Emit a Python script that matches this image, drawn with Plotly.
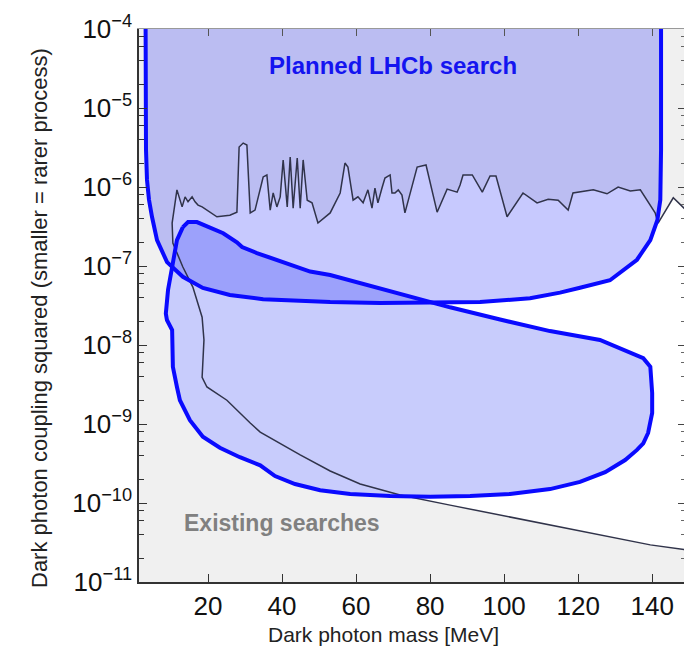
import plotly.graph_objects as go

# ---------------- data ----------------
# Boundary of existing searches (lower curve right->left, up the left side, then jagged top left->right)
limit_mass = [150.3, 148.6, 139.5, 125.9, 112.4, 98.9, 85.4, 71.9, 61.1, 53.0, 44.9, 34.1, 31.4,
              25.1, 19.7, 18.4, 18.9, 18.4, 15.9, 13.2, 10.5, 10.3, 11.6,
              13.0, 13.8, 14.6, 15.7, 16.5, 17.3, 18.4, 19.7, 22.4, 25.9, 27.8, 28.4, 29.5, 30.5,
              31.4, 32.7, 34.1, 34.9, 35.9, 36.8, 37.6, 38.6, 39.5, 40.3, 41.4, 42.2, 43.0, 44.1,
              44.9, 45.7, 46.8, 48.1, 49.7, 53.0, 55.7, 57.0, 57.8, 59.2, 60.5, 61.9, 63.2, 64.3,
              65.1, 65.9, 67.0, 67.8, 69.2, 69.7, 70.5, 71.4, 72.4, 73.2, 76.5, 78.9, 81.9, 84.6,
              87.3, 88.1, 88.9, 91.4, 94.1, 96.2, 97.8, 100.8, 105.1, 108.9, 111.9, 114.6, 117.3,
              118.6, 124.1, 127.8, 130.8, 134.1, 136.8, 140.8, 141.6, 145.7, 148.6, 150.3]
limit_eps2 = [2.45e-11, 2.57e-11, 2.95e-11, 3.93e-11, 5.3e-11, 7.0e-11, 9.4e-11, 1.26e-10, 1.74e-10,
              2.54e-10, 4.06e-10, 7.9e-10, 1.03e-9, 2.0e-9, 2.94e-9, 3.9e-9, 1.16e-8, 2.25e-8,
              5.4e-8, 9.7e-8, 1.95e-7, 3.5e-7, 9.2e-7,
              5.6e-7, 7.5e-7, 6.5e-7, 7.5e-7, 6.5e-7, 5.9e-7, 5.6e-7, 5.1e-7, 4.2e-7, 4.4e-7, 4.8e-7,
              3.2e-6, 3.6e-6, 3.4e-6, 4.7e-7, 5.1e-7, 1.0e-6, 1.34e-6, 1.42e-6, 5.1e-7, 8.4e-7,
              5.6e-7, 7.5e-7, 2.2e-6, 5.6e-7, 2.4e-6, 5.4e-7, 2.33e-6, 5.4e-7, 2.2e-6, 6.8e-7,
              6.3e-7, 3.5e-7, 4.7e-7, 8.4e-7, 2.01e-6, 1.79e-6, 6.8e-7, 7.5e-7, 6.3e-7, 9.2e-7,
              5.4e-7, 9.7e-7, 6.3e-7, 9.7e-7, 1.3e-6, 1.42e-6, 8.4e-7, 8.4e-7, 9.2e-7, 7.9e-7,
              4.7e-7, 1.79e-6, 1.9e-6, 4.8e-7, 9.4e-7, 8.6e-7, 1.06e-6, 1.42e-6, 1.42e-6, 8.6e-7,
              1.38e-6, 1.38e-6, 4.2e-7, 8.4e-7, 6.3e-7, 7.0e-7, 6.8e-7, 5.1e-7, 8.4e-7, 9.2e-7,
              8.2e-7, 1.0e-6, 8.9e-7, 9.2e-7, 4.7e-7, 3.5e-7, 7.3e-7, 5.4e-7, 4.5e-7]

# Planned LHCb search, region 1 (U shape, open above the top of the plot)
lhcb1_mass = [3.1, 3.1, 3.24, 3.51, 4.05, 4.86, 6.22, 8.92, 13.2, 18.6, 25.9, 34.9, 44.1, 53.0,
              66.5, 80.0, 93.5, 107.0, 115.1, 120.5, 128.6, 135.9, 139.5, 141.4, 142.2, 142.4, 142.4]
lhcb1_eps2 = [3e-4, 1.0e-5, 2.95e-6, 1.23e-6, 6.9e-7, 4.2e-7, 2.13e-7, 1.12e-7, 7.3e-8, 5.27e-8,
              4.3e-8, 3.8e-8, 3.6e-8, 3.5e-8, 3.4e-8, 3.4e-8, 3.5e-8, 3.9e-8, 4.6e-8, 5.3e-8,
              6.6e-8, 1.2e-7, 2.13e-7, 3.8e-7, 6.9e-7, 2.95e-6, 3e-4]

# Planned LHCb search, region 2 (closed island)
lhcb2_mass = [13.2, 14.6, 17.0, 20.5, 24.1, 27.8, 29.2, 33.2, 39.5, 45.7, 47.6, 53.0, 71.9, 85.4,
              98.9, 112.4, 125.9, 130.5, 134.9, 137.6, 139.5, 140.0, 140.0, 138.9, 137.6, 135.9,
              132.7, 127.3, 120.5, 112.4, 101.6, 90.8, 80.0, 69.2, 58.4, 50.3, 43.5, 38.1, 34.1,
              28.6, 23.2, 18.6, 15.1, 12.4, 11.6, 10.5, 10.3, 8.9, 8.6, 9.2, 10.3, 11.6, 13.2]
lhcb2_eps2 = [3.1e-7, 3.6e-7, 3.6e-7, 3.1e-7, 2.6e-7, 2.0e-7, 1.74e-7, 1.46e-7, 1.15e-7, 9.3e-8,
              8.5e-8, 7.7e-8, 4.4e-8, 3.0e-8, 2.1e-8, 1.5e-8, 1.16e-8, 9.4e-9, 7.9e-9, 6.8e-9,
              5.3e-9, 2.47e-9, 1.38e-9, 7.7e-10, 5.7e-10, 4.7e-10, 3.5e-10, 2.46e-10, 1.85e-10,
              1.5e-10, 1.3e-10, 1.23e-10, 1.2e-10, 1.23e-10, 1.3e-10, 1.45e-10, 1.74e-10, 2.19e-10,
              3.0e-10, 3.8e-10, 5.0e-10, 6.9e-10, 1.12e-9, 2.0e-9, 2.94e-9, 5.3e-9, 1.55e-8,
              2.07e-8, 2.5e-8, 5.0e-8, 9.7e-8, 2.13e-7, 3.1e-7]

x_ticks = [20, 40, 60, 80, 100, 120, 140]
y_ticks = [1e-11, 1e-10, 1e-9, 1e-8, 1e-7, 1e-6, 1e-5, 1e-4]
y_tick_text = ["10<sup>\u221211</sup>", "10<sup>\u221210</sup>", "10<sup>\u22129</sup>",
               "10<sup>\u22128</sup>", "10<sup>\u22127</sup>", "10<sup>\u22126</sup>",
               "10<sup>\u22125</sup>", "10<sup>\u22124</sup>"]
y_minor = [m * 10.0 ** e for e in range(-11, -4) for m in (2, 4, 6, 8)]

# ---------------- styling ----------------
BLUE = "#0a0aff"
FILL_UPPER = "rgba(0,10,250,0.22)"
FILL_LOWER = "#c8ccfc"
GRAYBG = "#f0f0f0"
FONT = "Liberation Sans, Arial, sans-serif"

fig = go.Figure()

# allowed (white) region bounded by existing searches
fig.add_trace(go.Scatter(x=limit_mass, y=limit_eps2, mode="lines", fill="toself",
                         fillcolor="white", line=dict(width=0), hoverinfo="skip",
                         showlegend=False))
# LHCb fills
fig.add_trace(go.Scatter(x=lhcb2_mass, y=lhcb2_eps2, mode="lines", fill="toself",
                         fillcolor=FILL_LOWER, line=dict(width=0), showlegend=False))
fig.add_trace(go.Scatter(x=lhcb1_mass, y=lhcb1_eps2, mode="lines", fill="toself",
                         fillcolor=FILL_UPPER, line=dict(width=0), showlegend=False))
# existing-search boundary line
fig.add_trace(go.Scatter(x=limit_mass, y=limit_eps2, mode="lines",
                         line=dict(color="#30334a", width=1.5), showlegend=False))
# LHCb outlines
fig.add_trace(go.Scatter(x=lhcb1_mass, y=lhcb1_eps2, mode="lines",
                         line=dict(color=BLUE, width=4), showlegend=False))
fig.add_trace(go.Scatter(x=lhcb2_mass, y=lhcb2_eps2, mode="lines",
                         line=dict(color=BLUE, width=4), showlegend=False))
# invisible trace to activate the mirrored (top/right) axes
fig.add_trace(go.Scatter(x=[50], y=[1e-8], xaxis="x2", yaxis="y2", mode="markers",
                         marker=dict(opacity=0), hoverinfo="skip", showlegend=False))

XR = [1.35, 148.6]
YR = [-11, -4]

fig.update_layout(
    width=684, height=650,
    margin=dict(l=139, r=0, t=29, b=68),
    paper_bgcolor="white", plot_bgcolor=GRAYBG,
    showlegend=False,
    font=dict(family=FONT, color="#111"),
    xaxis=dict(range=XR, tickvals=x_ticks, ticks="inside", ticklen=8, tickwidth=1.3,
               tickcolor="#333", showline=True, linecolor="#333", linewidth=1.5,
               showgrid=False, zeroline=False, tickfont=dict(size=26, color="#111")),
    xaxis2=dict(range=XR, overlaying="x", side="top", anchor="y", tickvals=x_ticks,
                ticks="inside", ticklen=7, tickcolor="#555", showticklabels=False,
                showline=True, linecolor="#999", linewidth=1, showgrid=False, zeroline=False),
    yaxis=dict(type="log", range=YR, tickvals=y_ticks, ticktext=y_tick_text,
               ticks="inside", ticklen=8, tickwidth=1.3, tickcolor="#333",
               showline=True, linecolor="#333", linewidth=1.5, showgrid=False, zeroline=False,
               tickfont=dict(size=26, color="#111"),
               minor=dict(tickvals=y_minor, ticks="inside", ticklen=5, tickcolor="#333",
                          showgrid=False)),
    yaxis2=dict(type="log", range=YR, overlaying="y", side="right", anchor="x",
                tickvals=y_ticks, ticks="inside", ticklen=6, tickcolor="#444",
                showticklabels=False, showline=False, showgrid=False, zeroline=False,
                minor=dict(tickvals=y_minor, ticks="inside", ticklen=3, tickcolor="#666",
                           showgrid=False)),
    annotations=[
        dict(text="Dark photon coupling squared (smaller = rarer process)", textangle=-90,
             xref="paper", yref="paper", x=(39 - 139) / 545, y=1 - (318 - 29) / 553,
             xanchor="center", yanchor="middle", showarrow=False,
             font=dict(size=22, color="#222", family=FONT)),
        dict(text="Dark photon mass [MeV]", xref="paper", yref="paper",
             x=(383 - 139) / 545, y=-(634 - 582) / 553, xanchor="center", yanchor="middle",
             showarrow=False, font=dict(size=21, color="#222", family=FONT)),
        dict(text="<b>Planned LHCb search</b>", xref="paper", yref="paper",
             x=(393 - 139) / 545, y=1 - (65 - 29) / 553, xanchor="center", yanchor="middle",
             showarrow=False, font=dict(size=24, color="#1414f0", family=FONT)),
        dict(text="<b>Existing searches</b>", xref="paper", yref="paper",
             x=(282 - 139) / 545, y=1 - (523 - 29) / 553, xanchor="center", yanchor="middle",
             showarrow=False, font=dict(size=23, color="#808080", family=FONT)),
    ],
)

fig.write_html("out.html")
